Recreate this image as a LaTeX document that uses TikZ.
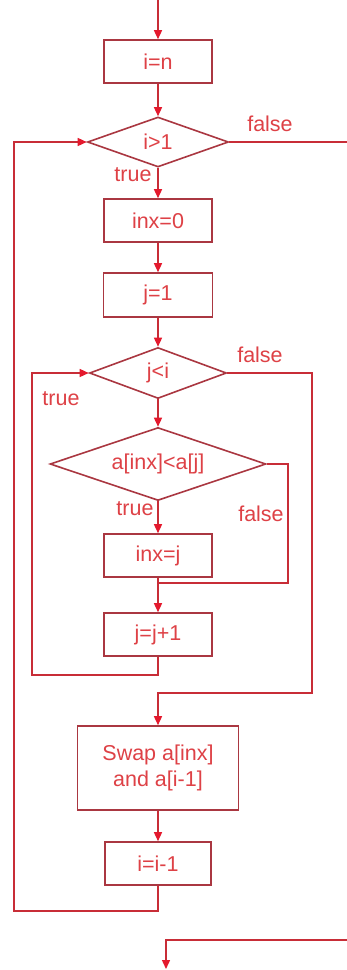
\documentclass[tikz,border=0pt]{standalone}
\usepackage{fontspec}
\setmainfont{Liberation Sans}
\usetikzlibrary{arrows.meta,shapes.geometric}
\definecolor{linecol}{RGB}{200,45,55}
\definecolor{boxcol}{RGB}{170,55,65}
\definecolor{tipcol}{RGB}{228,25,45}
\definecolor{txtcol}{RGB}{222,65,70}
\tikzset{
  procbox/.style={draw=boxcol, line width=1.6pt, rectangle, inner sep=0pt, align=center,
    text=txtcol, font=\fontsize{21.5}{26}\selectfont},
  decbox/.style={draw=boxcol, line width=1.6pt, diamond, inner sep=0pt, aspect=2.8,
    text=txtcol, font=\fontsize{21.5}{26}\selectfont},
  conn/.style={draw=linecol, line width=1.4pt},
  arr/.style={conn, -{Triangle[length=9pt,width=8pt,color=tipcol]}},
  lbl/.style={text=txtcol, font=\fontsize{21.5}{26}\selectfont, inner sep=0pt}
}
\begin{document}
\begin{tikzpicture}[x=1pt,y=-1pt]
\useasboundingbox (0,0) rectangle (347,970);
\fill[white] (0,0) rectangle (347,970);

\coordinate (start) at (158,0);
\node[procbox, minimum width=108pt, minimum height=43pt] (n1) at (158,61.5) {i=n};
\node[decbox, minimum width=141pt, minimum height=50pt] (d1) at (158,142) {i>1};
\node[procbox, minimum width=108pt, minimum height=43pt] (n2) at (158,220.5) {inx=0};
\node[procbox, minimum width=109pt, minimum height=44pt] (n3) at (158,295) {j=1};
\node[decbox, minimum width=137pt, minimum height=51pt] (d2) at (158,373) {j<i};
\node[decbox, minimum width=216pt, minimum height=73pt] (d3) at (158,464) {a[inx]<a[j]};
\node[procbox, minimum width=108pt, minimum height=43pt] (n4) at (158,555.5) {inx=j};
\node[procbox, minimum width=108pt, minimum height=43pt] (n5) at (158,634.5) {j=j+1};
\node[procbox, minimum width=161pt, minimum height=84pt] (n6) at (158,768) {Swap a[inx]\\and a[i-1]};
\node[procbox, minimum width=106pt, minimum height=43pt] (n7) at (158,863.5) {i=i-1};

\coordinate (f1) at (347,142);
\coordinate (j3) at (158,583);
\coordinate (bstart) at (347,940);
\coordinate (bturn) at (166,940);
\coordinate (bend) at (166,969);

\draw[arr] (start) -- (n1);
\draw[arr] (n1) -- (d1);
\draw[conn] (d1.east) -- (f1);
\draw[arr] (d1) -- (n2);
\draw[arr] (n2) -- (n3);
\draw[arr] (n3) -- (d2);
\draw[arr] (d2) -- (d3);
\draw[arr] (d3) -- (n4);
\draw[arr] (n4) -- (n5);
\draw[conn] (d3.east) -- (288,464) -- (288,583) -- (j3);
\draw[arr] (n5.south) -- (158,675) -- (32,675) -- (32,373) -- (d2.west);
\draw[arr] (d2.east) -- (312,373) -- (312,693) -- (158,693) -- (n6.north);
\draw[arr] (n6) -- (n7);
\draw[arr] (n7.south) -- (158,911) -- (14,911) -- (14,142) -- (d1.west);
\draw[arr] (bstart) -- (bturn) -- (bend);

\node[lbl] (l1) at (270,124) {false};
\node[lbl] (l2) at (133,175) {true};
\node[lbl] (l3) at (260,355) {false};
\node[lbl] (l4) at (61,399) {true};
\node[lbl] (l5) at (135,509) {true};
\node[lbl] (l6) at (261,514) {false};
\end{tikzpicture}
\end{document}
